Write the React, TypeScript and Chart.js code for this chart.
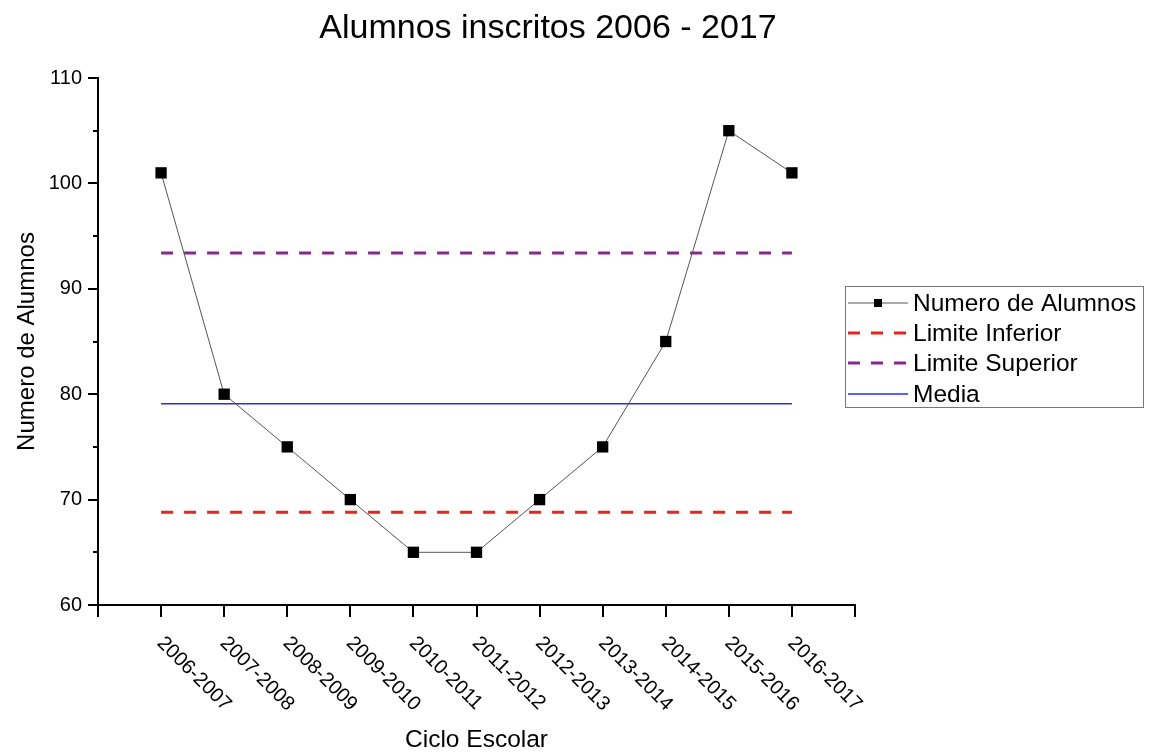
import React, { useEffect, useRef } from "react";
import { Chart, registerables } from "chart.js";

Chart.register(...registerables);

const FONT = "'Liberation Sans', Arial, sans-serif";

const ciclos = [
  "2006-2007", "2007-2008", "2008-2009", "2009-2010", "2010-2011", "2011-2012",
  "2012-2013", "2013-2014", "2014-2015", "2015-2016", "2016-2017",
];
const alumnos = [101, 80, 75, 70, 65, 65, 70, 75, 85, 105, 101];
const limiteInferior = 68.8;
const limiteSuperior = 93.4;
const media = 79.1;
const yTicks = [60, 70, 80, 90, 100, 110];
const yMinorTicks = [65, 75, 85, 95, 105];
const titulo = "Alumnos inscritos 2006 - 2017";

const axisLabels = ["", ...ciclos, ""];
const first = ciclos[0];
const last = ciclos[ciclos.length - 1];

const customDraw = {
  id: "customDraw",
  afterDraw(chart: any) {
    const ctx = chart.ctx;
    const xs = chart.scales.x;
    const ys = chart.scales.y;
    ctx.save();
    // title
    ctx.fillStyle = "#000";
    ctx.font = `34px ${FONT}`;
    ctx.textAlign = "center";
    ctx.textBaseline = "alphabetic";
    ctx.fillText(titulo, 548, 38);

    // minor y ticks
    ctx.strokeStyle = "#000";
    ctx.lineWidth = 2;
    yMinorTicks.forEach((v) => {
      const py = Math.round(ys.getPixelForValue(v));
      ctx.beginPath();
      ctx.moveTo(ys.right - 5, py);
      ctx.lineTo(ys.right, py);
      ctx.stroke();
    });

    // rotated x labels
    ctx.font = `20px ${FONT}`;
    ctx.textAlign = "left";
    ctx.textBaseline = "middle";
    axisLabels.forEach((lab, i) => {
      if (!lab) return;
      const px = xs.getPixelForTick(i);
      ctx.save();
      ctx.translate(px - 1, xs.top + 35);
      ctx.rotate(Math.PI / 4);
      ctx.fillText(lab, 0, 0);
      ctx.restore();
    });

    // legend
    const bx = 845, by = 286, bw = 298, bh = 121;
    ctx.strokeStyle = "#777";
    ctx.lineWidth = 1;
    ctx.strokeRect(bx + 0.5, by + 0.5, bw, bh);
    const rows = [303, 333, 363, 394];
    chart.data.datasets.forEach((ds: any, i: number) => {
      const y = rows[i];
      const x0 = 848, x1 = 908;
      ctx.save();
      ctx.strokeStyle = ds.borderColor;
      ctx.lineWidth = ds.borderWidth;
      if (i === 0) {
        ctx.beginPath();
        ctx.moveTo(x0, y);
        ctx.lineTo(x1, y);
        ctx.stroke();
        ctx.fillStyle = ds.pointBackgroundColor;
        ctx.fillRect(874, y - 4, 8, 8);
      } else {
        ctx.setLineDash(ds.borderDash || []);
        ctx.beginPath();
        ctx.moveTo(x0, y);
        ctx.lineTo(x1, y);
        ctx.stroke();
      }
      ctx.restore();
      ctx.fillStyle = "#000";
      ctx.font = `24.5px ${FONT}`;
      ctx.textAlign = "left";
      ctx.textBaseline = "middle";
      ctx.fillText(ds.label, 913, y + 1);
    });
    ctx.restore();
  },
};

export default function App() {
  const ref = useRef<HTMLCanvasElement>(null);
  useEffect(() => {
    if (!ref.current) return;
    Chart.defaults.font.family = FONT;
    const chart = new Chart(ref.current, {
      type: "line",
      data: {
        labels: axisLabels,
        datasets: [
          {
            label: "Numero de Alumnos",
            data: [null, ...alumnos, null],
            borderColor: "#555",
            borderWidth: 1,
            pointStyle: "rect",
            pointRadius: 8,
            pointBorderWidth: 0,
            pointBackgroundColor: "#000",
            pointBorderColor: "#000",
            tension: 0,
          },
          {
            label: "Limite Inferior",
            data: [{ x: first, y: limiteInferior }, { x: last, y: limiteInferior }],
            borderColor: "#e8241d",
            borderWidth: 3,
            borderDash: [12, 11],
            pointRadius: 0,
          },
          {
            label: "Limite Superior",
            data: [{ x: first, y: limiteSuperior }, { x: last, y: limiteSuperior }],
            borderColor: "#87288f",
            borderWidth: 3,
            borderDash: [12, 11],
            pointRadius: 0,
          },
          {
            label: "Media",
            data: [{ x: first, y: media }, { x: last, y: media }],
            borderColor: "#2b2bea",
            borderWidth: 1.5,
            pointRadius: 0,
          },
        ] as any,
      },
      options: {
        responsive: false,
        animation: false,
        layout: { padding: { top: 78, right: 295, bottom: 0, left: 0 } },
        plugins: {
          legend: { display: false },
          title: { display: false },
          tooltip: { enabled: false },
        },
        scales: {
          x: {
            type: "category",
            offset: false,
            ticks: { display: false, autoSkip: false },
            grid: {
              display: true,
              drawOnChartArea: false,
              drawTicks: true,
              tickLength: 12,
              color: "#000",
              lineWidth: 2,
            },
            border: { display: true, color: "#000", width: 2 },
            title: {
              display: true,
              text: "Ciclo Escolar",
              color: "#000",
              font: { size: 24.5, family: FONT },
              padding: { top: 0, bottom: -3 },
            },
            afterFit: (s: any) => {
              s.height = 147;
            },
          },
          y: {
            min: 60,
            max: 110,
            afterBuildTicks: (s: any) => {
              s.ticks = yTicks.map((v) => ({ value: v }));
            },
            ticks: {
              color: "#000",
              font: { size: 20, family: FONT },
              padding: 6,
            },
            grid: {
              display: true,
              drawOnChartArea: false,
              drawTicks: true,
              tickLength: 10,
              color: "#000",
              lineWidth: 2,
            },
            border: { display: true, color: "#000", width: 2 },
            title: {
              display: true,
              text: "Numero de Alumnos",
              color: "#000",
              font: { size: 24, family: FONT },
              padding: { top: 13, bottom: 0 },
            },
            afterFit: (s: any) => {
              s.width = 98;
            },
          },
        },
      },
      plugins: [customDraw],
    });
    return () => chart.destroy();
  }, []);
  return (
    <div style={{ position: "fixed", left: 0, top: 0, width: 1150, height: 752, background: "#fff" }}>
      <canvas ref={ref} width={1150} height={752} style={{ display: "block" }} />
    </div>
  );
}
